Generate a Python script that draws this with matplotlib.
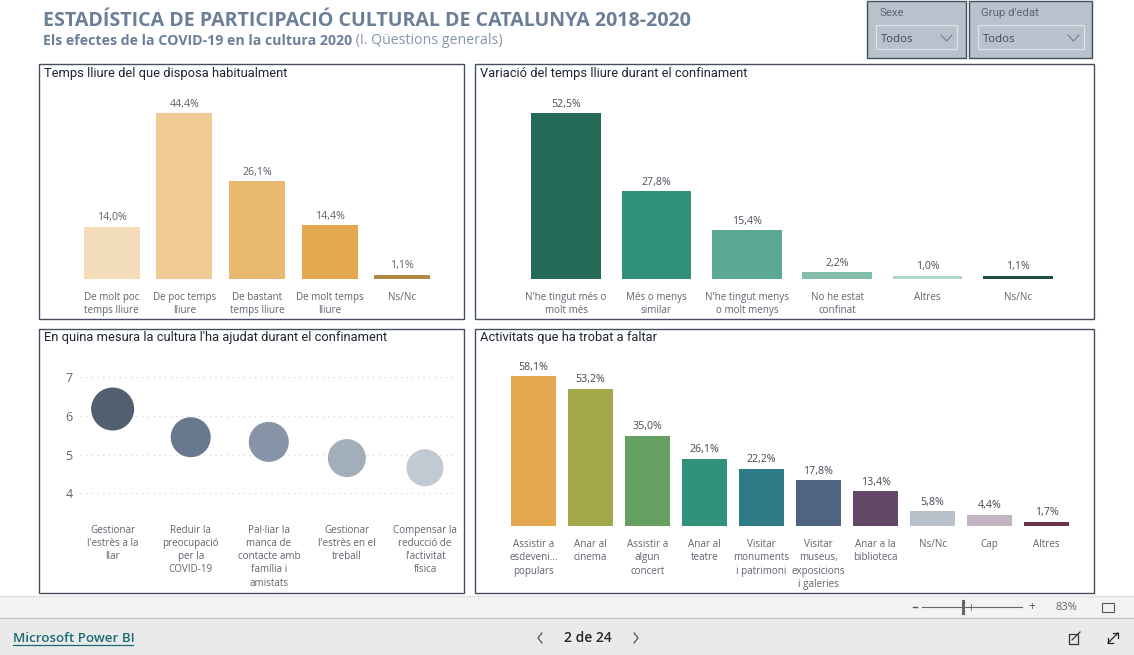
import matplotlib
matplotlib.use('Agg')
import matplotlib.pyplot as plt
from matplotlib.patches import Rectangle

W, H = 1134, 655

# Data
free_labels = ['De molt poc\ntemps lliure', 'De poc temps\nlliure', 'De bastant\ntemps lliure', 'De molt temps\nlliure', 'Ns/Nc']
free_values = [14.0, 44.4, 26.1, 14.4, 1.1]
free_colors = ['#F3DCB8', '#F0CC94', '#E9B970', '#E3A850', '#B08A3E']

var_labels = ["N'he tingut més o\nmolt més", 'Més o menys\nsimilar', "N'he tingut menys\no molt menys", 'No he estat\nconfinat', 'Altres', 'Ns/Nc']
var_values = [52.5, 27.8, 15.4, 2.2, 1.0, 1.1]
var_colors = ['#256B58', '#31917A', '#5BA894', '#85BDAC', '#AED5C8', '#1E4F42']

help_labels = ["Gestionar\nl'estrès a la\nllar", 'Reduir la\npreocupació\nper la\nCOVID-19', "Pal·liar la\nmanca de\ncontacte amb\nfamília i\namistats", "Gestionar\nl'estrès en el\ntreball", "Compensar la\nreducció de\nl'activitat\nfísica"]
help_values = [6.18, 5.45, 5.33, 4.91, 4.66]
help_colors = ['#535F70', '#68788F', '#8594A6', '#A3AEBB', '#C1C9D2']
help_diam = [43, 40, 40, 38, 37]

miss_labels = ['Assistir a\nesdeveni...\npopulars', 'Anar al\ncinema', 'Assistir a\nalgun\nconcert', 'Anar al\nteatre', 'Visitar\nmonuments\ni patrimoni', 'Visitar\nmuseus,\nexposicions\ni galeries', 'Anar a la\nbiblioteca', 'Ns/Nc', 'Cap', 'Altres']
miss_values = [58.1, 53.2, 35.0, 26.1, 22.2, 17.8, 13.4, 5.8, 4.4, 1.7]
miss_colors = ['#E3A850', '#A3A84A', '#66A060', '#31917A', '#2E7A87', '#4E6480', '#634868', '#B8C0CA', '#C2B4C2', '#6E3348']

FONT = 'Open Sans'
TITLE_FONT = 'Roboto'
BORDER = '#444F60'
TICK = '#5F6670'
LINE_SP = 1.28
plt.rcParams['font.family'] = FONT

fig = plt.figure(figsize=(W / 100, H / 100), dpi=100, facecolor='white')

# background layer in pixel coordinates
bg = fig.add_axes([0, 0, 1, 1], zorder=0)
bg.set_xlim(0, W)
bg.set_ylim(H, 0)
bg.axis('off')


def px_axes(x0, y0, x1, y1):
    ax = fig.add_axes([x0 / W, 1 - y1 / H, (x1 - x0) / W, (y1 - y0) / H], zorder=2)
    ax.patch.set_visible(False)
    for s in ax.spines.values():
        s.set_visible(False)
    return ax


def panel(x0, y0, x1, y1, title):
    bg.add_patch(Rectangle((x0, y0), x1 - x0, y1 - y0, fc='#A9AFB6', ec='none'))
    bg.add_patch(Rectangle((x0 - 1, y0 - 1), x1 - x0, y1 - y0, fc='white', ec=BORDER, lw=1.0))
    bg.text(x0 + 4, y0 + 8, title, fontsize=9.3, family=TITLE_FONT, color='#1E2530', va='center', ha='left')


def bars(box, values, labels, colors, width, pad, label_color, weight='normal'):
    ax = px_axes(*box)
    x = list(range(len(values)))
    b = ax.bar(x, values, width=width, color=colors)
    ax.set_xlim(-0.5, len(values) - 0.5)
    ax.set_ylim(0, max(values))
    ax.set_yticks([])
    ax.set_xticks(x)
    ax.set_xticklabels(labels, fontsize=7.1, color=TICK, linespacing=LINE_SP)
    ax.tick_params(axis='x', length=0, pad=pad)
    ax.bar_label(b, labels=[f'{v:.1f}%'.replace('.', ',') for v in values], padding=2.5,
                 fontsize=7.7, color=label_color, fontweight=weight)
    return ax


panel(40, 65, 465, 320, 'Temps lliure del que disposa habitualment')
panel(476, 65, 1095, 320, 'Variació del temps lliure durant el confinament')
panel(40, 330, 465, 594, "En quina mesura la cultura l'ha ajudat durant el confinament")
panel(476, 330, 1095, 594, 'Activitats que ha trobat a faltar')

bars((75.5, 113, 438.5, 279), free_values, free_labels, free_colors, 0.77, 9.5, '#5A616B')
bars((521, 113, 1063, 279), var_values, var_labels, var_colors, 0.77, 9.5, '#4A515B')
bars((505, 376, 1075, 526), miss_values, miss_labels, miss_colors, 0.79, 9.5, '#434A54')

# bubble panel
ax3 = px_axes(74, 377.3, 464, 493.3)
ax3.set_ylim(4, 7)
ax3.set_xlim(-0.495, 4.5)
ax3.set_yticks([4, 5, 6, 7])
ax3.set_yticklabels(['4', '5', '6', '7'], fontsize=9, color=TICK)
ax3.set_xticks(range(len(help_values)))
ax3.set_xticklabels(help_labels, fontsize=7.1, color=TICK, linespacing=LINE_SP, va='top')
ax3.tick_params(axis='both', length=0)
ax3.tick_params(axis='x', pad=22.5)
ax3.tick_params(axis='y', pad=1)
for yv in [4, 5, 6, 7]:
    ax3.plot([-0.42, 4.38], [yv, yv], color='#D5D8DC', lw=0.9, ls=(0, (1, 3.5)), zorder=1, clip_on=False)
ax3.scatter(range(len(help_values)), help_values, s=[(d * 0.72) ** 2 for d in help_diam],
            c=help_colors, linewidths=0, zorder=3, clip_on=False)

# header
bg.text(43, 21, 'ESTADÍSTICA DE PARTICIPACIÓ CULTURAL DE CATALUNYA 2018-2020', fontsize=14.1,
        fontweight='bold', color='#6C7F98', va='center', ha='left')
sub = bg.text(43, 41, 'Els efectes de la COVID-19 en la cultura 2020', fontsize=10.2, fontweight='bold',
              color='#6C7F98', va='center', ha='left')
bg.annotate(' (I. Qüestions generals)', xy=(1, 0.5), xycoords=sub, fontsize=10.2, color='#8595A9',
            va='center', ha='left')

# slicers
for x0, x1, ix0, ix1, name in [(867, 966, 876, 957, 'Sexe'), (969, 1092, 978, 1084, "Grup d'edat")]:
    bg.add_patch(Rectangle((x0, 1), x1 - x0, 57, fc='#B8C1CC', ec=BORDER, lw=1.0))
    bg.add_patch(Rectangle((ix0, 25), ix1 - ix0, 24, fc='#B8C1CC', ec='#DDE2E8', lw=0.9))
    bg.text(ix0 + 3, 13.5, name, fontsize=8.2, family=TITLE_FONT, color='#59667A', va='center')
    bg.text(ix0 + 5, 39.5, 'Todos', fontsize=8.2, color='#3E4C5E', va='center')
    bg.plot([ix1 - 16, ix1 - 10.5, ix1 - 5], [35, 41, 35], color='#6A7686', lw=0.7)

# bottom report bars
bg.add_patch(Rectangle((0, 596), W, 22, fc='#F3F3F3', ec='none'))
bg.add_patch(Rectangle((0, 618), W, 37, fc='#EAEAEA', ec='none'))
bg.plot([0, W], [595.5, 595.5], color='#E3E3E3', lw=1)
bg.plot([0, W], [618, 618], color='#C8C8C8', lw=1)

bg.text(13, 639, 'Microsoft Power BI', fontsize=9.6, color='#1B6B72', va='center', ha='left', fontweight='semibold')
bg.plot([13, 133], [645, 645], color='#1B6B72', lw=0.9)
bg.text(588, 638, '2 de 24', fontsize=10, color='#252423', va='center', ha='center', fontweight='semibold')
bg.plot([542, 538, 542], [633, 638, 643], color='#444', lw=0.8)
bg.plot([634, 638, 634], [633, 638, 643], color='#444', lw=0.8)

# zoom control
bg.plot([913, 917], [607, 607], color='#555', lw=1)
bg.plot([922, 1022], [607, 607], color='#666', lw=0.8)
bg.plot([963, 963], [601, 613], color='#666', lw=2.2)
bg.plot([971, 971], [604, 610], color='#666', lw=0.6)
bg.text(1032, 606.5, '+', fontsize=8.5, color='#555', ha='center', va='center')
bg.text(1066, 607, '83%', fontsize=8, color='#666', ha='center', va='center')
bg.add_patch(Rectangle((1102, 603), 12, 9, fc='none', ec='#555', lw=0.8))

# share and fullscreen icons
bg.add_patch(Rectangle((1069, 634), 9, 10, fc='none', ec='#333', lw=0.9))
bg.plot([1072, 1080], [640, 632], color='#333', lw=0.9)
bg.plot([1108, 1118], [643, 633], color='#222', lw=0.9)
bg.plot([1113, 1118, 1118], [633, 633, 638], color='#222', lw=0.9)
bg.plot([1108, 1108, 1113], [638, 643, 643], color='#222', lw=0.9)

fig.savefig('out.png', dpi=100)
